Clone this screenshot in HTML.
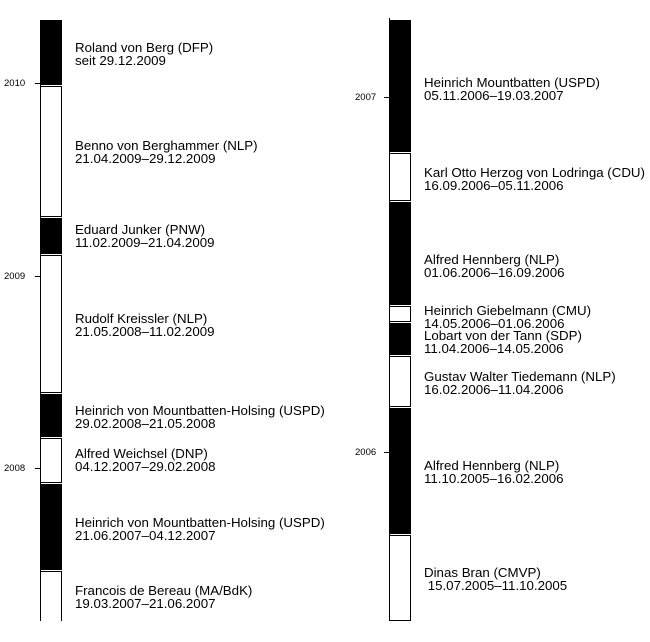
<!DOCTYPE html>
<html><head><meta charset="utf-8"><style>
body{margin:0;background:#fff;width:650px;height:642px;position:relative;overflow:hidden;font-family:"Liberation Sans",sans-serif;color:#000}
.s{position:absolute;box-sizing:border-box;border:1px solid #000;width:22px}
.b{background:#000}
.t{position:absolute;font-size:13.3px;line-height:12.5px;white-space:nowrap}
.y{position:absolute;font-size:9.5px;line-height:9px}
.k{position:absolute;height:1px;width:6px;background:#000}
.ax{position:absolute;width:1px;background:#000}
</style></head><body>
<div class="ax" style="left:40px;top:20px;height:601px"></div>
<div class="s b" style="left:40px;top:20px;height:65px"></div>
<div class="s" style="left:40px;top:86px;height:131px"></div>
<div class="s b" style="left:40px;top:218px;height:36px"></div>
<div class="s" style="left:40px;top:255px;height:138px"></div>
<div class="s b" style="left:40px;top:394px;height:43px"></div>
<div class="s" style="left:40px;top:438px;height:45px"></div>
<div class="s b" style="left:40px;top:484px;height:86px"></div>
<div class="s" style="left:40px;top:571px;height:50px;border-bottom:none"></div>
<div class="k" style="left:35px;top:83px"></div><div class="y" style="left:4px;top:79px">2010</div>
<div class="k" style="left:35px;top:276px"></div><div class="y" style="left:4px;top:272px">2009</div>
<div class="k" style="left:35px;top:468px"></div><div class="y" style="left:4px;top:464px">2008</div>

<div class="t" style="left:75px;top:42px">Roland von Berg (DFP)<br>seit 29.12.2009</div>
<div class="t" style="left:75px;top:140px">Benno von Berghammer (NLP)<br>21.04.2009–29.12.2009</div>
<div class="t" style="left:75px;top:224px">Eduard Junker (PNW)<br>11.02.2009–21.04.2009</div>
<div class="t" style="left:75px;top:313px">Rudolf Kreissler (NLP)<br>21.05.2008–11.02.2009</div>
<div class="t" style="left:75px;top:405px">Heinrich von Mountbatten-Holsing (USPD)<br>29.02.2008–21.05.2008</div>
<div class="t" style="left:75px;top:448px">Alfred Weichsel (DNP)<br>04.12.2007–29.02.2008</div>
<div class="t" style="left:75px;top:517px">Heinrich von Mountbatten-Holsing (USPD)<br>21.06.2007–04.12.2007</div>
<div class="t" style="left:75px;top:585px">Francois de Bereau (MA/BdK)<br>19.03.2007–21.06.2007</div>

<div class="ax" style="left:389px;top:18px;height:603px"></div>
<div class="s b" style="left:389px;top:20px;height:132px"></div>
<div class="s" style="left:389px;top:153px;height:48px"></div>
<div class="s b" style="left:389px;top:202px;height:103px"></div>
<div class="s" style="left:389px;top:306px;height:16px"></div>
<div class="s b" style="left:389px;top:323px;height:32px"></div>
<div class="s" style="left:389px;top:356px;height:51px"></div>
<div class="s b" style="left:389px;top:408px;height:126px"></div>
<div class="s" style="left:389px;top:535px;height:86px"></div>
<div class="k" style="left:384px;top:97px"></div><div class="y" style="left:355px;top:93px">2007</div>
<div class="k" style="left:384px;top:452px"></div><div class="y" style="left:355px;top:448px">2006</div>

<div class="t" style="left:424px;top:77px">Heinrich Mountbatten (USPD)<br>05.11.2006–19.03.2007</div>
<div class="t" style="left:424px;top:167px">Karl Otto Herzog von Lodringa (CDU)<br>16.09.2006–05.11.2006</div>
<div class="t" style="left:424px;top:254px">Alfred Hennberg (NLP)<br>01.06.2006–16.09.2006</div>
<div class="t" style="left:424px;top:305px">Heinrich Giebelmann (CMU)<br>14.05.2006–01.06.2006</div>
<div class="t" style="left:424px;top:330px">Lobart von der Tann (SDP)<br>11.04.2006–14.05.2006</div>
<div class="t" style="left:424px;top:371px">Gustav Walter Tiedemann (NLP)<br>16.02.2006–11.04.2006</div>
<div class="t" style="left:424px;top:460px">Alfred Hennberg (NLP)<br>11.10.2005–16.02.2006</div>
<div class="t" style="left:424px;top:567px">Dinas Bran (CMVP)<br>&nbsp;15.07.2005–11.10.2005</div>
</body></html>
